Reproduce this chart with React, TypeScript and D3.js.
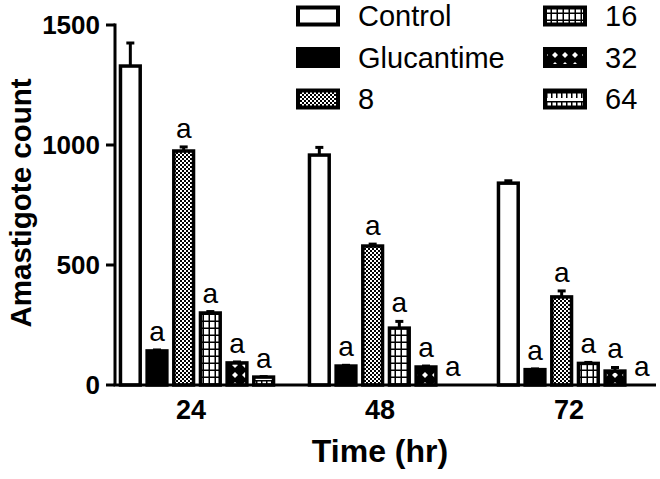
import React from "react";
import * as d3 from "d3";

const groups = ["24", "48", "72"];
const seriesNames = ["Control", "Glucantime", "8", "16", "32", "64"];
const controlMeans = [1329, 958, 841];
const controlErr = [96, 32, 10];
const glucantimeMeans = [142, 79, 64];
const glucantimeErr = [4, 3, 3];
const dose8Means = [975, 579, 367];
const dose8Err = [17, 8, 25];
const dose16Means = [300, 237, 90];
const dose16Err = [6, 28, 4];
const dose32Means = [92, 75, 58];
const dose32Err = [4, 4, 15];
const dose64Means = [33, 0, 0];
const dose64Err = [2, 0, 0];
const sigLetters = ["", "a", "a", "a", "a", "a"];
const yTicks = [0, 500, 1000, 1500];

const means = [controlMeans, glucantimeMeans, dose8Means, dose16Means, dose32Means, dose64Means];
const errs = [controlErr, glucantimeErr, dose8Err, dose16Err, dose32Err, dose64Err];
const fills = ["#fff", "#000", "url(#pChecker)", "url(#pGrid)", "url(#pDiamond)", "url(#pBrick)"];

const W = 660, H = 479;
const axisX = 115, axisRight = 656, yTop = 25, yBottom = 385;

export default function App() {
  const y = d3.scaleLinear().domain([0, 1500]).range([yBottom, yTop]);
  const gx = d3.scalePoint<string>().domain(groups).range([197, 575]);
  const bx = d3.scaleBand<string>().domain(seriesNames).range([-80, 80]).paddingInner(0.26).paddingOuter(0.13);
  const bw = bx.bandwidth();

  const legendRows = [0, 1, 2];
  const legendY = d3.scaleLinear().domain([0, 2]).range([16, 99]);
  const legendX = [296, 543];

  return (
    <svg width={W} height={H} style={{ position: "absolute", left: 0, top: 0, background: "#fff" }}
      fontFamily="'Liberation Sans', Arial, sans-serif">
      <defs>
        <pattern id="pChecker" patternUnits="userSpaceOnUse" width={4} height={4}>
          <rect width={4} height={4} fill="#fff" />
          <rect width={2} height={2} fill="#000" />
          <rect x={2} y={2} width={2} height={2} fill="#000" />
        </pattern>
        <pattern id="pGrid" patternUnits="userSpaceOnUse" width={6} height={7}>
          <rect width={6} height={7} fill="#fff" />
          <rect x={4.5} width={1.5} height={7} fill="#000" />
          <rect y={5.5} width={6} height={1.5} fill="#000" />
        </pattern>
        <pattern id="pDiamond" patternUnits="userSpaceOnUse" width={10} height={10}>
          <rect width={10} height={10} fill="#000" />
          <polygon points="5,2 8,5 5,8 2,5" fill="#fff" />
        </pattern>
        <pattern id="pBrick" patternUnits="userSpaceOnUse" width={10} height={9}>
          <rect width={10} height={9} fill="#fff" />
          <rect y={2} width={10} height={1.5} fill="#000" />
          <rect x={1} y={2} width={1.5} height={6} fill="#000" />
          <rect x={6} y={2} width={1.5} height={6} fill="#000" />
        </pattern>
      </defs>

      {/* bars */}
      {groups.map((g, gi) => (
        <g key={g}>
          {seriesNames.map((s, si) => {
            const v = means[si][gi];
            const e = errs[si][gi];
            const x0 = gx(g)! + bx(s)!;
            const cx = x0 + bw / 2;
            const top = y(v);
            const errTop = y(v + e);
            return (
              <g key={s}>
                {v > 0 && (
                  <rect x={x0} y={top} width={bw} height={yBottom - top} fill={fills[si]} stroke="#000" strokeWidth={3.5} />
                )}
                {e > 0 && (
                  <g stroke="#000" strokeWidth={3}>
                    <line x1={cx} x2={cx} y1={top} y2={errTop} />
                    <line x1={cx - 4} x2={cx + 4} y1={errTop} y2={errTop} />
                  </g>
                )}
                {sigLetters[si] && (
                  <text x={cx} y={errTop - 9} textAnchor="middle" fontSize={28} fill="#000">{sigLetters[si]}</text>
                )}
              </g>
            );
          })}
        </g>
      ))}

      {/* axes */}
      <line x1={axisX} x2={axisX} y1={yTop - 1.5} y2={yBottom} stroke="#000" strokeWidth={3} />
      <line x1={axisX - 1.5} x2={axisRight} y1={yBottom} y2={yBottom} stroke="#000" strokeWidth={3} />
      {yTicks.map((t) => (
        <g key={t}>
          <line x1={axisX - 9} x2={axisX} y1={y(t)} y2={y(t)} stroke="#000" strokeWidth={3} />
          <text x={100} y={y(t)} dy="0.36em" textAnchor="end" fontSize={26} fontWeight="bold" fill="#000">{t}</text>
        </g>
      ))}
      {groups.map((g) => (
        <text key={g} x={gx(g)! - 6} y={419} textAnchor="middle" fontSize={27} fontWeight="bold" fill="#000">{g}</text>
      ))}
      <text x={380} y={462} textAnchor="middle" fontSize={32} fontWeight="bold" fill="#000">Time (hr)</text>
      <text transform={`translate(31,203) rotate(-90)`} textAnchor="middle" fontSize={29.5} fontWeight="bold" fill="#000">Amastigote count</text>

      {/* legend */}
      {seriesNames.map((s, si) => {
        const col = Math.floor(si / 3);
        const row = legendRows[si % 3];
        const cy = legendY(row);
        return (
          <g key={s}>
            <rect x={legendX[col] + 2} y={cy - 8.5} width={40} height={17} fill={fills[si]} stroke="#000" strokeWidth={4} />
            <text x={legendX[col] + 62} y={cy} dy="0.36em" fontSize={29} fill="#000">{s}</text>
          </g>
        );
      })}
    </svg>
  );
}
